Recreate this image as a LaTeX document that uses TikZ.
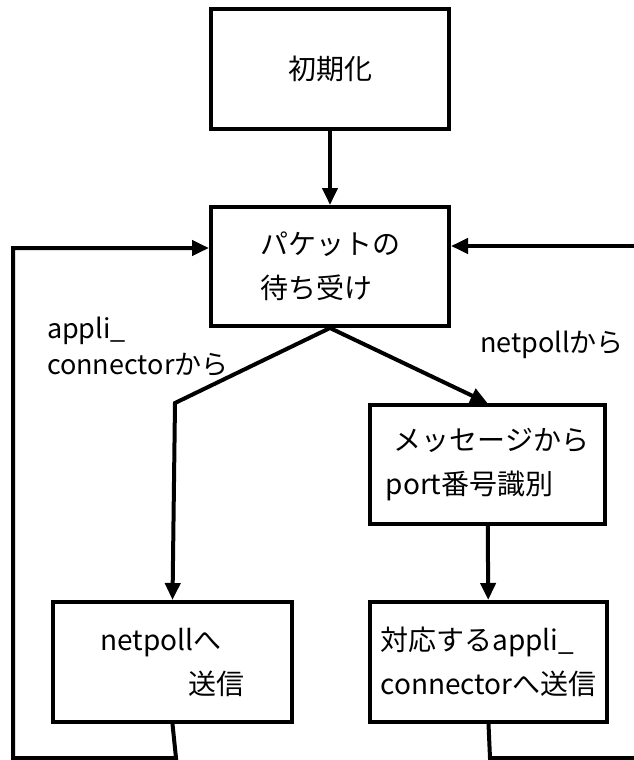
\documentclass[tikz,border=0pt]{standalone}
\usepackage{fontspec}
\setmainfont{Noto Sans CJK JP}
\usetikzlibrary{arrows.meta}

\begin{document}
\begin{tikzpicture}[x=1pt, y=-1pt, line width=4pt, >={Triangle[length=17pt,width=15pt]},
  box/.style={draw, rectangle, inner sep=0pt, minimum width=238pt, minimum height=119pt, align=left, font=\fontsize{28}{44}\selectfont},
  tag/.style={anchor=west, inner sep=0pt, align=left, font=\fontsize{27}{36}\selectfont}]
\useasboundingbox (0,0) rectangle (634,760);
\clip (0,0) rectangle (634,760);
\node[box] (init) at (330,69) {初期化};
\node[box] (wait) at (330,266.5) {パケットの\\待ち受け};
\node[box, minimum width=235pt] (msg) at (487.5,464.5) {\hspace*{8pt}メッセージから\\port番号識別};
\node[box, minimum width=239pt, minimum height=120pt] (tonet) at (172.5,662) {netpollへ\\\hspace*{88pt}送信};
\node[box, minimum width=237pt, minimum height=120pt] (toapp) at (488.5,662) {対応するappli\_\\connectorへ送信};
\node[tag] (fromapp) at (45,347) {appli\_\\connectorから};
\node[tag] (fromnet) at (478,345) {netpollから};
\coordinate (lbend) at (175,403);
\coordinate (lbot) at (176,758);
\coordinate (lcorner) at (13,758);
\coordinate (ltop) at (13,248);
\coordinate (redge) at (640,246);
\coordinate (rbot) at (490,758);
\coordinate (rbotedge) at (640,758);
\draw[->] (init) -- (wait);
\draw[->] (wait.south) -- (lbend) -- (tonet.north);
\draw[->] (wait.south) -- (msg.north);
\draw[->] (msg) -- (toapp);
\draw[->] (tonet.south) -- (lbot) -- (lcorner) -- (ltop) -- (wait.west |- ltop);
\draw[->] (redge) -- (wait.east |- redge);
\draw (toapp.south) -- (rbot) -- (rbotedge);
\end{tikzpicture}
\end{document}
